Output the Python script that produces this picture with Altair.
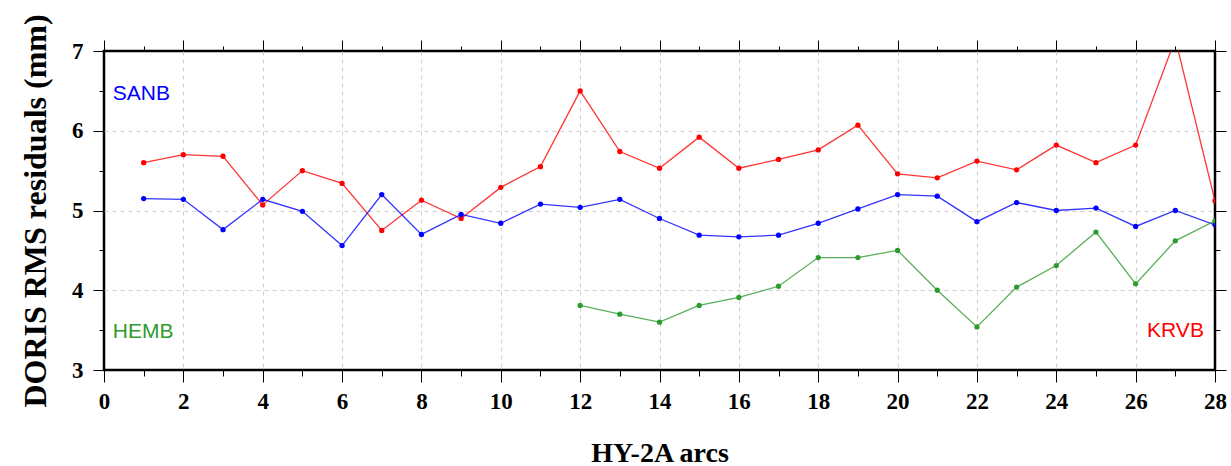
import altair as alt
import pandas as pd

# ---- data ----
arcs = list(range(1, 29))
krvb = [5.60, 5.70, 5.68, 5.07, 5.50, 5.34, 4.75, 5.13, 4.90, 5.29, 5.55, 6.50, 5.74, 5.53,
        5.92, 5.53, 5.64, 5.76, 6.07, 5.46, 5.41, 5.62, 5.51, 5.82, 5.60, 5.82, 7.15, 5.12]
sanb = [5.15, 5.14, 4.76, 5.14, 4.99, 4.56, 5.20, 4.70, 4.95, 4.84, 5.08, 5.04, 5.14, 4.90,
        4.69, 4.67, 4.69, 4.84, 5.02, 5.20, 5.18, 4.86, 5.10, 5.00, 5.03, 4.80, 5.00, 4.82]
hemb_arcs = list(range(12, 29))
hemb = [3.81, 3.70, 3.60, 3.81, 3.91, 4.05, 4.41, 4.41, 4.50, 4.00, 3.54, 4.04, 4.31, 4.73,
        4.08, 4.62, 4.87]

series_names = ["KRVB", "SANB", "HEMB"]
series_colors = ["#ff0000", "#0000ff", "#2e9b2e"]

x_major = list(range(0, 29, 2))
x_minor = list(range(1, 28, 2))
y_major = [3, 4, 5, 6, 7]
y_minor = [3.5, 4.5, 5.5, 6.5]
x_grid = list(range(2, 27, 2))
y_grid = [4, 5, 6]

# station label anchors (data units)
label_names = ["SANB", "HEMB", "KRVB"]
label_x = [0.22, 0.22, 27.72]
label_y = [6.39, 3.40, 3.41]

series_data = {
    "KRVB": (arcs, krvb),
    "SANB": (arcs, sanb),
    "HEMB": (hemb_arcs, hemb),
}

xs = alt.Scale(domain=[0, 28], nice=False, zero=False)
ys = alt.Scale(domain=[3, 7], nice=False, zero=False)

SERIF = "Liberation Serif"

all_rows = pd.DataFrame({"arc": arcs, "val": sanb})

layers = []

# grid only (interior lines, so the frame stays solid)
grid_x = alt.Axis(orient="bottom", values=x_grid, ticks=False, labels=False, domain=False,
                  grid=True, gridDash=[4, 4], gridColor="#cfcfcf", gridWidth=1, title=None)
grid_y = alt.Axis(orient="left", values=y_grid, ticks=False, labels=False, domain=False,
                  grid=True, gridDash=[4, 4], gridColor="#cfcfcf", gridWidth=1, title=None)
layers.append(
    alt.Chart(all_rows).mark_point(opacity=0).encode(
        x=alt.X("arc:Q", scale=xs, axis=grid_x),
        y=alt.Y("val:Q", scale=ys, axis=grid_y),
    )
)

# major axes bottom/left with labels
ax_bottom = alt.Axis(orient="bottom", values=x_major, tickSize=12, tickColor="black", tickWidth=1,
                     domain=False, grid=False,
                     labelFont=SERIF, labelFontWeight="bold", labelFontSize=23, labelColor="black",
                     labelPadding=8, labelFlush=False,
                     title="HY-2A arcs", titleFont=SERIF, titleFontWeight="bold", titleFontSize=28,
                     titleColor="black", titlePadding=26)
ax_left = alt.Axis(orient="left", values=y_major, tickSize=11, tickColor="black", tickWidth=1,
                   domain=False, grid=False,
                   labelFont=SERIF, labelFontWeight="bold", labelFontSize=23, labelColor="black",
                   labelPadding=10, labelFlush=False,
                   title="DORIS RMS residuals (mm)", titleFont=SERIF, titleFontWeight="bold",
                   titleFontSize=32, titleColor="black", titlePadding=19)
layers.append(
    alt.Chart(all_rows).mark_point(opacity=0).encode(
        x=alt.X("arc:Q", scale=xs, axis=ax_bottom),
        y=alt.Y("val:Q", scale=ys, axis=ax_left),
    )
)


def tick_axis(orient, vals, size):
    return alt.Axis(orient=orient, values=vals, tickSize=size, tickColor="black", tickWidth=1,
                    domain=False, grid=False, labels=False, title=None)


for xo, xv, xsz, yo, yv, ysz in [
    ("bottom", x_minor, 6, "left", y_minor, 5),
    ("top", x_major, 11, "right", y_major, 11),
    ("top", x_minor, 5, "right", y_minor, 5),
]:
    layers.append(
        alt.Chart(all_rows).mark_point(opacity=0).encode(
            x=alt.X("arc:Q", scale=xs, axis=tick_axis(xo, xv, xsz)),
            y=alt.Y("val:Q", scale=ys, axis=tick_axis(yo, yv, ysz)),
        )
    )

for name, color in zip(series_names, series_colors):
    xv, yv = series_data[name]
    d = pd.DataFrame({"arc": xv, "val": yv})
    base = alt.Chart(d).encode(
        x=alt.X("arc:Q", scale=xs, axis=None),
        y=alt.Y("val:Q", scale=ys, axis=None),
    )
    layers.append(base.mark_line(color=color, strokeWidth=1.3, opacity=0.8, clip=True))
    layers.append(base.mark_circle(color=color, size=28, opacity=1, clip=True))

lab = pd.DataFrame({"name": label_names, "lx": label_x, "ly": label_y})
for name, color, align in [("SANB", "#0000ff", "left"), ("HEMB", "#2e9b2e", "left"),
                           ("KRVB", "#ff0000", "right")]:
    layers.append(
        alt.Chart(lab).transform_filter(alt.datum.name == name).mark_text(
            color=color, align=align, baseline="alphabetic", font="Liberation Sans", fontSize=21
        ).encode(
            x=alt.X("lx:Q", scale=xs, axis=None),
            y=alt.Y("ly:Q", scale=ys, axis=None),
            text="name:N",
        )
    )

chart = alt.layer(*layers).resolve_axis(x="independent", y="independent").properties(
    width=1111, height=319,
    autosize=alt.AutoSizeParams(type="none"),
    padding={"left": 104, "top": 51, "right": 16, "bottom": 96},
    background="white",
).configure_view(stroke="black", strokeWidth=2.5)

chart.save("out.html", embed_options={"renderer": "svg", "actions": False})
